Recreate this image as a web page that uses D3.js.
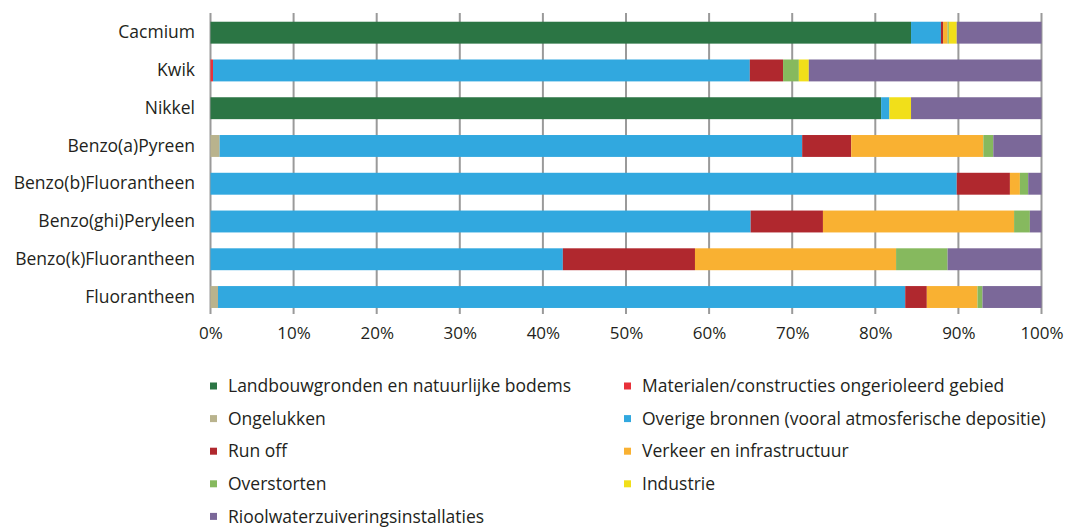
<!DOCTYPE html>
<html>
<head>
<meta charset="utf-8">
<script src="https://cdn.jsdelivr.net/npm/d3@7"></script>
<style>
  html, body { margin: 0; padding: 0; background: #fff; }
  svg { display: block; }
  text { font-family: "Open Sans", "Noto Sans", sans-serif; fill: #231f20; }
</style>
</head>
<body>
<svg id="chart" width="1067" height="527"></svg>
<script>
const categories = ["Cacmium", "Kwik", "Nikkel", "Benzo(a)Pyreen", "Benzo(b)Fluorantheen",
  "Benzo(ghi)Peryleen", "Benzo(k)Fluorantheen", "Fluorantheen"];

const seriesNames = ["Landbouwgronden en natuurlijke bodems", "Materialen/constructies ongerioleerd gebied",
  "Ongelukken", "Overige bronnen (vooral atmosferische depositie)", "Run off",
  "Verkeer en infrastructuur", "Overstorten", "Industrie", "Rioolwaterzuiveringsinstallaties"];

const seriesColors = ["#2b7544", "#e8313a", "#b9b38d", "#31a8df", "#b0282e",
  "#f9b132", "#86b95e", "#f1df1a", "#7b6899"];

// values per series, in category order (percent)
const landbouw    = [84.3, 0,    80.7, 0,    0,    0,    0,    0];
const materialen  = [0,    0.3,  0,    0,    0,    0,    0,    0];
const ongelukken  = [0,    0,    0,    1.1,  0,    0,    0,    0.9];
const overige     = [3.6,  64.6, 1.0,  70.1, 89.8, 65.0, 42.4, 82.7];
const runoff      = [0.25, 4.0,  0,    5.9,  6.4,  8.7,  15.9, 2.6];
const verkeer     = [0.55, 0,    0,    15.9, 1.2,  23.0, 24.2, 6.1];
const overstorten = [0.15, 1.9,  0,    1.2,  1.0,  1.9,  6.2,  0.6];
const industrie   = [0.95, 1.2,  2.6,  0,    0,    0,    0,    0];
const riool       = [10.2, 28.0, 15.7, 5.8,  1.6,  1.4,  11.3, 7.1];

const tickValues = [0, 10, 20, 30, 40, 50, 60, 70, 80, 90, 100];

const seriesValues = [landbouw, materialen, ongelukken, overige, runoff, verkeer, overstorten, industrie, riool];

const table = categories.map((c, i) => {
  const row = { cat: c };
  seriesNames.forEach((s, j) => { row[s] = seriesValues[j][i]; });
  return row;
});

const svg = d3.select("#chart");

const x = d3.scaleLinear().domain([0, 100]).range([210.5, 1041.5]);
const y = d3.scaleBand().domain(categories).range([13.8, 315.9]).paddingInner(0.42).paddingOuter(0.21);
const color = d3.scaleOrdinal().domain(seriesNames).range(seriesColors);

// gridlines
svg.append("g").selectAll("line").data(tickValues).join("line")
  .attr("x1", d => x(d)).attr("x2", d => x(d))
  .attr("y1", 13).attr("y2", 314)
  .attr("stroke", "#9a9a9a").attr("stroke-width", 2);

// stacked bars
const stack = d3.stack().keys(seriesNames);
const layers = stack(table);
svg.append("g").selectAll("g").data(layers).join("g")
  .attr("fill", d => color(d.key))
  .selectAll("rect").data(d => d).join("rect")
  .attr("x", d => x(d[0]))
  .attr("width", d => Math.max(0, x(d[1]) - x(d[0])))
  .attr("y", d => y(d.data.cat))
  .attr("height", y.bandwidth());

// category labels
const yAxis = svg.append("g").attr("transform", "translate(210,0)")
  .call(d3.axisLeft(y).tickSize(0).tickPadding(15));
yAxis.select(".domain").remove();
yAxis.selectAll("text").style("font-size", "17.5px").style("fill", "#231f20")
  .style("font-family", "'Open Sans', sans-serif");

// x tick labels
const xAxis = svg.append("g").attr("transform", "translate(0,314)")
  .call(d3.axisBottom(x).tickValues(tickValues).tickSize(0).tickPadding(13).tickFormat(d => d + "%"));
xAxis.select(".domain").remove();
xAxis.selectAll("text").style("font-size", "17px").style("fill", "#231f20")
  .style("font-family", "'Open Sans', sans-serif");

// legend
const colX = [210, 624];
const legend = svg.append("g");
seriesNames.forEach((s, i) => {
  const cx = colX[i % 2];
  const cy = 386 + Math.floor(i / 2) * 32.6;
  legend.append("rect").attr("x", cx).attr("y", cy - 3.5).attr("width", 7).attr("height", 7)
    .attr("fill", color(s));
  legend.append("text").attr("x", cx + 18).attr("y", cy).attr("dy", "0.35em")
    .style("font-size", "17.5px").text(s);
});
</script>
</body>
</html>
